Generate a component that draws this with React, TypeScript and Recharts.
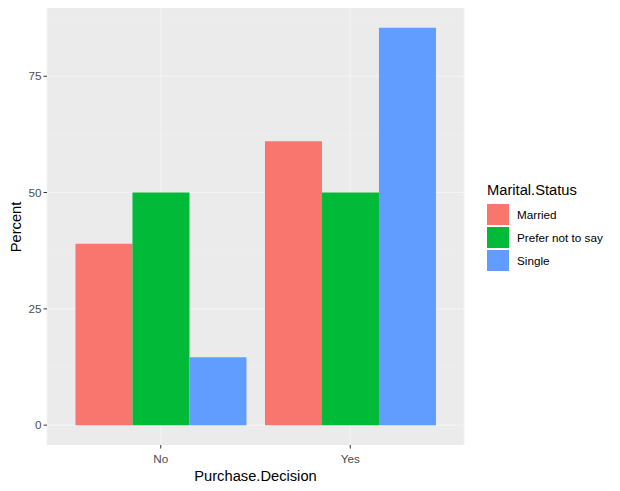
import React from 'react';
import { BarChart, Bar, XAxis, YAxis, CartesianGrid, Label } from 'recharts';

// Purchase decision by marital status (percent)
const decisions = ['No', 'Yes'];
const married = [39, 61];
const preferNotToSay = [50, 50];
const single = [14.6, 85.4];

const yTicks = [0, 25, 50, 75];
const minorY = [12.5, 37.5, 62.5, 87.5];

const seriesNames = ['Married', 'Prefer not to say', 'Single'];
const colors = ['#F8766D', '#00BA38', '#619CFF'];

const data = decisions.map((d, i) => ({
  decision: d,
  Married: married[i],
  'Prefer not to say': preferNotToSay[i],
  Single: single[i],
}));

const FONT = '"Liberation Sans", Arial, sans-serif';

function LegendBox() {
  return (
    <div style={{ position: 'absolute', left: 487, top: 182, fontFamily: FONT }}>
      <div style={{ fontSize: 14.7, color: '#000', lineHeight: '17px', marginBottom: 4 }}>
        Marital.Status
      </div>
      {seriesNames.map((name, i) => (
        <div key={name} style={{ display: 'flex', alignItems: 'center', height: 23 }}>
          <div style={{ width: 22, height: 21, background: colors[i], marginRight: 8 }} />
          <span style={{ fontSize: 11.7, color: '#000' }}>{name}</span>
        </div>
      ))}
    </div>
  );
}

export default function App() {
  return (
    <div style={{ position: 'absolute', left: 0, top: 0, width: 620, height: 491, background: '#fff' }}>
      <BarChart
        width={620}
        height={491}
        data={data}
        margin={{ top: 8, right: 156, left: 0, bottom: 0 }}
        barCategoryGap="5%"
        barGap={0}
        style={{ fontFamily: FONT }}
      >
        {/* gridlines are barely visible in the reference, keep them faint */}
        <CartesianGrid
          fill="#EBEBEB"
          stroke="#EFEFEF"
          strokeWidth={0.6}
          vertical={false}
          horizontalValues={minorY}
        />
        <CartesianGrid
          stroke="#F3F3F3"
          strokeWidth={1.1}
          horizontalValues={yTicks}
        />
        <XAxis
          dataKey="decision"
          padding={{ left: 19, right: 19 }}
          height={46}
          axisLine={false}
          tickSize={3.5}
          tickMargin={6}
          tickLine={{ stroke: '#333333' }}
          tick={{ fill: '#4D4D4D', fontSize: 11.7 }}
        >
          <Label
            value="Purchase.Decision"
            position="insideBottom"
            offset={10}
            style={{ fontSize: 14.7, fill: '#000' }}
          />
        </XAxis>
        <YAxis
          type="number"
          domain={[-4.27, 89.67]}
          ticks={yTicks}
          allowDataOverflow
          width={47}
          axisLine={false}
          tickSize={3.5}
          tickMargin={2}
          tickLine={{ stroke: '#333333' }}
          tick={{ fill: '#4D4D4D', fontSize: 11.7 }}
        >
          <Label
            content={() => (
              <text
                x={21}
                y={227}
                transform="rotate(-90 21 227)"
                textAnchor="middle"
                style={{ fontSize: 14.7, fill: '#000', fontFamily: FONT }}
              >
                Percent
              </text>
            )}
          />
        </YAxis>
        {seriesNames.map((name, i) => (
          <Bar key={name} dataKey={name} name={name} fill={colors[i]} isAnimationActive={false} />
        ))}
      </BarChart>
      <LegendBox />
    </div>
  );
}
